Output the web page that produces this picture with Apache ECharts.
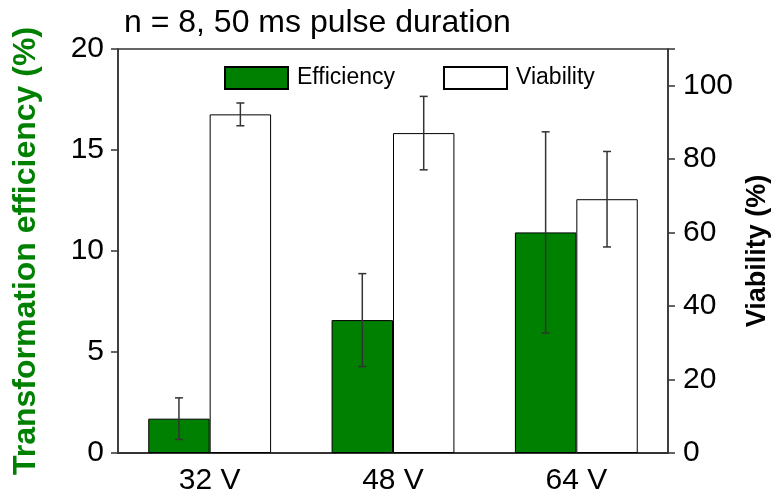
<!DOCTYPE html>
<html>
<head>
<meta charset="utf-8">
<script src="https://cdn.jsdelivr.net/npm/echarts@6/dist/echarts.min.js"></script>
<style>
html, body { margin: 0; padding: 0; background: #fff; }
#main { width: 779px; height: 500px; }
</style>
</head>
<body>
<div id="main"></div>
<script>
// voltages on the x axis
var categories = ['32 V', '48 V', '64 V'];
// transformation efficiency (%) and its error
var efficiency = [1.7, 6.58, 10.92];
var efficiencyErr = [1.03, 2.3, 4.98];
// viability (%) and its error
var viability = [92.2, 87.1, 69.1];
var viabilityErr = [3.1, 10, 13];

var chart = echarts.init(document.getElementById('main'));
var font = 'Liberation Sans';

// error bar drawn at bar centre, offset is fraction of the category width
function errorBar(offset) {
	return function (params, api) {
		var i = api.value(0);
		var hi = api.coord([i, api.value(1) + api.value(2)]);
		var lo = api.coord([i, api.value(1) - api.value(2)]);
		var cx = hi[0] + api.size([1, 0])[0] * offset;
		var cap = 4;
		var style = { stroke: '#333', lineWidth: 1.5 };
		return {
			type: 'group',
			children: [
				{ type: 'line', shape: { x1: cx, y1: hi[1], x2: cx, y2: lo[1] }, style: style },
				{ type: 'line', shape: { x1: cx - cap, y1: hi[1], x2: cx + cap, y2: hi[1] }, style: style },
				{ type: 'line', shape: { x1: cx - cap, y1: lo[1], x2: cx + cap, y2: lo[1] }, style: style }
			]
		};
	};
}

function errData(vals, errs) {
	var d = [];
	for (var i = 0; i < vals.length; i++) {
		d.push([i, vals[i], errs[i]]);
	}
	return d;
}

var option = {
	backgroundColor: '#fff',
	animation: false,
	title: {
		text: 'n = 8, 50 ms pulse duration',
		left: 119,
		top: 2,
		textStyle: { color: '#000', fontSize: 32, fontWeight: 'normal', fontFamily: font }
	},
	legend: {
		left: 219,
		top: 61,
		itemWidth: 63,
		itemHeight: 22,
		itemGap: 48,
		textStyle: { color: '#000', fontSize: 23, fontFamily: font, padding: [0, 0, 0, 4] },
		data: [
			{ name: 'Efficiency', icon: 'rect' },
			{ name: 'Viability', icon: 'rect' }
		]
	},
	grid: {
		left: 118,
		right: 111,
		top: 49,
		bottom: 47,
		show: true,
		borderColor: '#333',
		borderWidth: 1.5
	},
	xAxis: {
		type: 'category',
		data: categories,
		axisLine: { lineStyle: { color: '#333', width: 2 } },
		axisTick: { show: false },
		axisLabel: { color: '#000', fontSize: 30, fontFamily: font, margin: 13 }
	},
	yAxis: [
		{
			type: 'value',
			min: 0,
			max: 20,
			interval: 5,
			name: 'Transformation efficiency (%)',
			nameLocation: 'middle',
			nameGap: 76,
			nameTextStyle: { color: '#008000', fontSize: 32, fontWeight: 'bold', fontFamily: font },
			axisLine: { show: true, lineStyle: { color: '#333', width: 1.5 } },
			axisTick: { show: true, length: 7, lineStyle: { color: '#333', width: 1.5 } },
			axisLabel: { color: '#000', fontSize: 30, fontFamily: font, margin: 14 },
			splitLine: { show: false }
		},
		{
			type: 'value',
			min: 0,
			max: 110,
			interval: 20,
			name: 'Viability (%)',
			nameLocation: 'middle',
			nameGap: 73,
			nameTextStyle: { color: '#000', fontSize: 27, fontWeight: 'bold', fontFamily: font },
			axisLine: { show: true, lineStyle: { color: '#333', width: 1.5 } },
			axisTick: { show: true, length: 7, lineStyle: { color: '#333', width: 1.5 } },
			axisLabel: {
				color: '#000', fontSize: 30, fontFamily: font, margin: 15,
				formatter: function (v) { return v > 100 ? '' : v; }
			},
			splitLine: { show: false }
		}
	],
	series: [
		{
			name: 'Efficiency',
			type: 'bar',
			yAxisIndex: 0,
			barGap: 0,
			barCategoryGap: '33%',
			itemStyle: { color: '#008000', borderColor: '#000', borderWidth: 1 },
			data: efficiency
		},
		{
			name: 'Viability',
			type: 'bar',
			yAxisIndex: 1,
			barGap: 0,
			barCategoryGap: '33%',
			itemStyle: { color: '#fff', borderColor: '#000', borderWidth: 1 },
			data: viability
		},
		{
			type: 'custom',
			yAxisIndex: 0,
			z: 10,
			renderItem: errorBar(-0.1675),
			data: errData(efficiency, efficiencyErr)
		},
		{
			type: 'custom',
			yAxisIndex: 1,
			z: 10,
			renderItem: errorBar(0.1675),
			data: errData(viability, viabilityErr)
		}
	]
};
chart.setOption(option);
</script>
</body>
</html>
